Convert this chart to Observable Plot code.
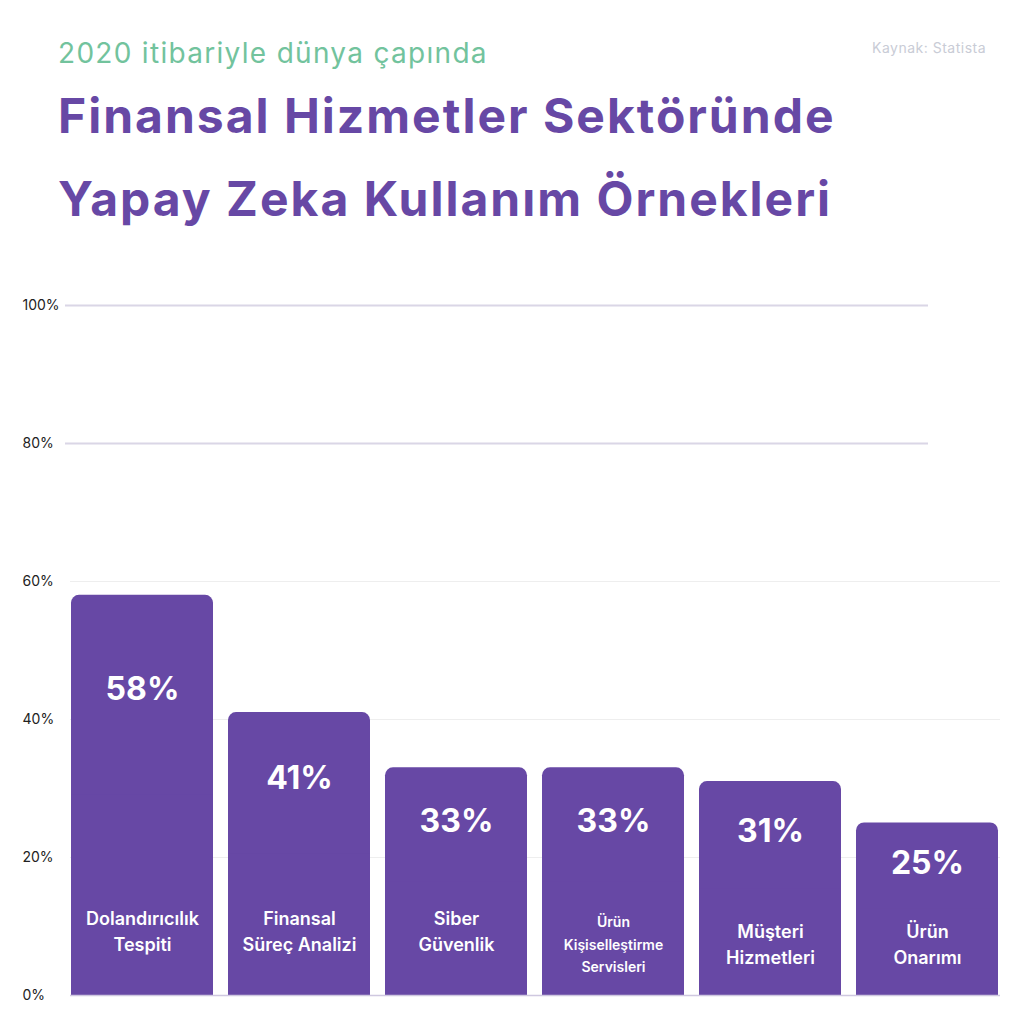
<!DOCTYPE html>
<html>
<head>
<meta charset="utf-8">
<script src="https://cdn.jsdelivr.net/npm/d3@7"></script>
<script src="https://cdn.jsdelivr.net/npm/@observablehq/plot@0.6"></script>
<style>
  html, body { margin: 0; padding: 0; background: #ffffff; }
  #wrap { position: relative; width: 1024px; height: 1024px; font-family: "Inter", "Lato", sans-serif; overflow: hidden; }
  #header { position: relative; width: 1024px; height: 260px; }
  .sub { position: absolute; left: 58px; top: 36px; font-size: 28px; color: #72c39d; font-weight: 400; letter-spacing: 1.3px; white-space: nowrap; }
  .src { position: absolute; left: 872px; top: 39px; font-size: 14px; color: #c9ccd6; letter-spacing: 0.5px; white-space: nowrap; }
  .title { position: absolute; left: 58px; font-size: 48px; font-weight: 700; color: #6748a5; letter-spacing: 2px; white-space: nowrap; }
  #chart { position: absolute; left: 0; top: 260px; }
</style>
</head>
<body>
<div id="wrap">
  <div id="header">
    <div class="sub">2020 itibariyle dünya çapında</div>
    <div class="src">Kaynak: Statista</div>
    <div class="title" style="top:86px">Finansal Hizmetler Sektöründe</div>
    <div class="title" style="top:169px">Yapay Zeka Kullanım Örnekleri</div>
  </div>
  <div id="chart"></div>
</div>
<script>
// Data
const categories = [
  "Dolandırıcılık\nTespiti",
  "Finansal\nSüreç Analizi",
  "Siber\nGüvenlik",
  "Ürün\nKişiselleştirme\nServisleri",
  "Müşteri\nHizmetleri",
  "Ürün\nOnarımı"
];
const values = [58, 41, 33, 33, 31, 25];
const yTicks = [0, 20, 40, 60, 80, 100];
const yTickLabels = ["0%", "20%", "40%", "60%", "80%", "100%"];

const data = categories.map((c, i) => ({ category: c, value: values[i], i }));
const ticks = yTicks.map((t, i) => ({ t, label: yTickLabels[i] }));

const purple = "#6748a5";

const chart = Plot.plot({
  width: 1024,
  height: 764,
  marginLeft: 63,
  marginRight: 17,
  marginTop: 45,
  marginBottom: 29,
  style: { fontFamily: "Inter, Lato, sans-serif", background: "transparent" },
  x: { domain: categories, paddingInner: 0.093, paddingOuter: 0.05, axis: null },
  y: { domain: [0, 100], axis: null },
  marks: [
    // faint gridlines
    Plot.ruleY(ticks.filter(d => d.t > 0 && d.t <= 60), { y: "t", stroke: "#eeeeee", strokeWidth: 1, insetLeft: 7, insetRight: 7 }),
    // stronger upper gridlines
    Plot.ruleY(ticks.filter(d => d.t >= 80), { y: "t", stroke: "#dad6e6", strokeWidth: 2, insetLeft: 2, insetRight: 79 }),
    // y tick labels
    Plot.text(ticks, { y: "t", text: "label", frameAnchor: "left", textAnchor: "start", dx: -41, fontSize: 14, fill: "#222222" }),
    // bars (rounded top)
    Plot.barY(data, { x: "category", y: "value", fill: purple, rx: 8 }),
    Plot.barY(data, { x: "category", y: d => d.value / 2, fill: purple }),
    // baseline
    Plot.ruleY([0], { stroke: "#cfc8e0", strokeWidth: 1.5, insetLeft: 7, insetRight: 7 }),
    // value labels
    Plot.text(data, { x: "category", y: d => d.value * 0.765, text: d => d.value + "%", fill: "white", fontSize: 32, fontWeight: 700 }),
    // category labels
    Plot.text(data.filter(d => d.i < 3), { x: "category", y: () => 9.57, text: "category", fill: "white", fontSize: 18, fontWeight: 600, lineHeight: 1.44, lineAnchor: "middle", style: { letterSpacing: "0.3px" } }),
    Plot.text(data.filter(d => d.i === 3), { x: "category", y: () => 7.68, text: "category", fill: "white", fontSize: 14, fontWeight: 600, lineHeight: 1.6, lineAnchor: "middle" }),
    Plot.text(data.filter(d => d.i > 3), { x: "category", y: () => 7.68, text: "category", fill: "white", fontSize: 18, fontWeight: 600, lineHeight: 1.44, lineAnchor: "middle", style: { letterSpacing: "0.3px" } })
  ]
});
document.getElementById("chart").appendChild(chart);
</script>
</body>
</html>
